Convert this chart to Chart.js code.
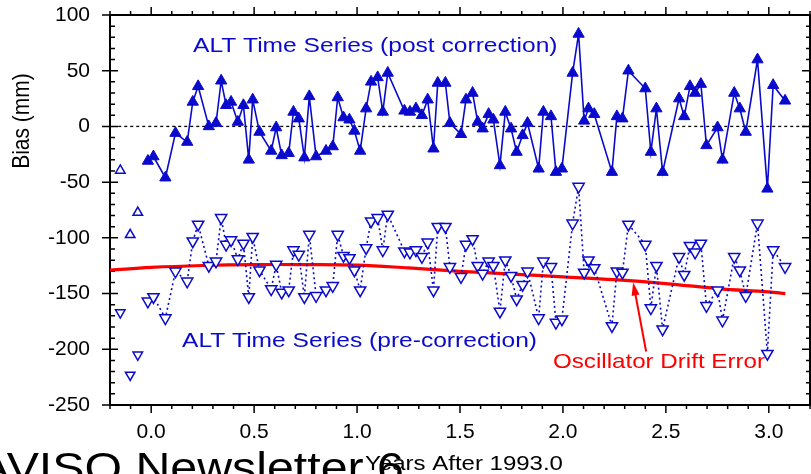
<!DOCTYPE html>
<html lang="en">
<head>
<meta charset="UTF-8">
<title>ALT Bias</title>
<script src="https://cdn.jsdelivr.net/npm/chart.js"></script>
<style>
  html, body { margin: 0; padding: 0; background: #fff; }
  .wrap { width: 811px; height: 474px; position: relative; }
</style>
</head>
<body>
<div class="wrap"><canvas id="biasChart"></canvas></div>
<script>
// years after 1993.0 for each cycle
const years = [
  -0.016, 0.011, 0.069, 0.118, 0.175, 0.202, 0.228, 0.280, 0.315, 0.340,
  0.364, 0.388, 0.421, 0.448, 0.474, 0.493, 0.526, 0.583, 0.607, 0.634,
  0.668, 0.691, 0.717, 0.744, 0.768, 0.801, 0.849, 0.882, 0.906, 0.934,
  0.963, 0.987, 1.015, 1.044, 1.068, 1.100, 1.125, 1.149, 1.230, 1.257,
  1.286, 1.315, 1.343, 1.371, 1.392, 1.429, 1.451, 1.505, 1.529, 1.561,
  1.586, 1.610, 1.639, 1.662, 1.694, 1.720, 1.748, 1.775, 1.804, 1.828,
  1.882, 1.905, 1.942, 1.966, 1.995, 2.047, 2.076, 2.103, 2.124, 2.152,
  2.238, 2.262, 2.289, 2.318, 2.400, 2.427, 2.454, 2.484, 2.564, 2.589,
  2.617, 2.642, 2.670, 2.697, 2.751, 2.775, 2.832, 2.859, 2.888, 2.945,
  2.993, 3.021, 3.079
];
const postBias = [
  -31, -27, -46, -6, -14, 22, 36, 0, 3, 41,
  19, 22, 4, 19, -30, 24, -5, -22, -1, -26,
  -24, 13, 7, -28, 27, -27, -22, -18, 26, 8,
  6, -4, -22, 16, 40, 44, 13, 48, 14, 13,
  16, 10, 24, -20, 39, 39, 3, -7, 24, 30,
  4, -2, 11, 6, -35, 13, -2, -23, -8, 3,
  -38, 13, 9, -41, -38, 48, 83, 5, 16, 11,
  -41, 9, 7, 50, 34, -23, 16, -41, 25, 9,
  36, 30, 38, -17, -1, -30, 30, 16, -5, 60,
  -56, 37, 23
];
const preBias = [
  -157, -153, -172, -130, -139, -103, -88, -125, -121, -82,
  -106, -102, -119, -105, -153, -99, -129, -146, -124, -149,
  -147, -111, -115, -153, -97, -152, -147, -143, -97, -116,
  -118, -129, -147, -109, -85, -82, -111, -79, -112, -113,
  -111, -117, -104, -147, -90, -90, -126, -135, -106, -101,
  -125, -132, -121, -125, -166, -120, -134, -155, -142, -130,
  -172, -121, -126, -176, -173, -87, -54, -131, -120, -127,
  -179, -130, -131, -88, -106, -163, -125, -182, -117, -133,
  -107, -113, -105, -161, -147, -174, -117, -129, -152, -87,
  -204, -111, -126
];

// early cycles, not connected
const earlyYears = [-0.150, -0.102, -0.065];
const earlyPost = [-39.5, -97.3, -77.3];
const earlyPre = [-167, -223, -205];

// oscillator drift curve
const driftYears = [-0.2, 0, 0.25, 0.5, 0.75, 1.0, 1.25, 1.5, 1.75, 2.0, 2.25, 2.5, 2.75, 3.0, 3.08];
const driftBias = [-129, -126.5, -124.8, -124, -124, -124.5, -127, -130, -132.5, -135, -137.5, -141, -145.5, -148.5, -150];

const xTicks = [0, 0.5, 1.0, 1.5, 2.0, 2.5, 3.0];
const yTicks = [100, 50, 0, -50, -100, -150, -200, -250];

const BLUE = '#0a0acc';
const FONT = '"Liberation Sans", Arial, Helvetica, sans-serif';

function pts(xs, ys) {
  return xs.map((x, i) => ({ x: x, y: ys[i] }));
}

// wider text, the original picture is stretched sideways
function wideText(ctx, text, x, y, size, color, sx, align) {
  ctx.save();
  ctx.font = size + 'px ' + FONT;
  ctx.fillStyle = color;
  ctx.textAlign = align || 'left';
  ctx.textBaseline = 'alphabetic';
  ctx.translate(x, y);
  ctx.scale(sx, 1);
  ctx.fillText(text, 0, 0);
  ctx.restore();
}

const framePlugin = {
  id: 'frame',
  beforeDatasetsDraw(chart) {
    const { ctx, chartArea: a, scales: { x, y } } = chart;
    ctx.save();
    ctx.strokeStyle = '#000';
    ctx.lineWidth = 2;
    ctx.strokeRect(a.left, a.top, a.right - a.left, a.bottom - a.top);
    ctx.lineWidth = 1.5;
    ctx.beginPath();
    for (let i = -2; i <= 32; i++) {
      const px = x.getPixelForValue(i / 10);
      const len = i % 5 === 0 ? 8 : 4;
      ctx.moveTo(px, a.bottom); ctx.lineTo(px, a.bottom + len);
      ctx.moveTo(px, a.top); ctx.lineTo(px, a.top - len);
    }
    for (let v = -250; v <= 100; v += 10) {
      const py = y.getPixelForValue(v);
      if (v % 50 === 0) {
        ctx.moveTo(a.left - 8, py); ctx.lineTo(a.left + 8, py);
        ctx.moveTo(a.right, py); ctx.lineTo(a.right - 8, py);
      } else {
        ctx.moveTo(a.left, py); ctx.lineTo(a.left + 5, py);
        ctx.moveTo(a.right, py); ctx.lineTo(a.right - 4, py);
      }
    }
    ctx.stroke();
    ctx.restore();
  },
  afterDraw(chart) {
    const { ctx, scales: { x, y } } = chart;

    wideText(ctx, 'ALT Time Series (post correction)', 193, 52, 21, BLUE, 1.17);
    wideText(ctx, 'ALT Time Series (pre-correction)', 182, 347, 21, BLUE, 1.17);
    wideText(ctx, 'Oscillator Drift Error', 553, 368, 21, '#ff0000', 1.15);

    // arrow from label to drift curve
    const x0 = x.getPixelForValue(2.404), y0 = y.getPixelForValue(-202);
    const x1 = x.getPixelForValue(2.341), y1 = y.getPixelForValue(-140);
    const ang = Math.atan2(y1 - y0, x1 - x0);
    ctx.save();
    ctx.strokeStyle = '#ff0000';
    ctx.fillStyle = '#ff0000';
    ctx.lineWidth = 2;
    ctx.beginPath();
    ctx.moveTo(x0, y0);
    ctx.lineTo(x1 - Math.cos(ang) * 8, y1 - Math.sin(ang) * 8);
    ctx.stroke();
    ctx.beginPath();
    ctx.moveTo(x1, y1);
    ctx.lineTo(x1 - Math.cos(ang) * 13 + Math.sin(ang) * 4, y1 - Math.sin(ang) * 13 - Math.cos(ang) * 4);
    ctx.lineTo(x1 - Math.cos(ang) * 13 - Math.sin(ang) * 4, y1 - Math.sin(ang) * 13 + Math.cos(ang) * 4);
    ctx.closePath();
    ctx.fill();
    ctx.restore();

    // axis titles
    ctx.save();
    ctx.font = '21px ' + FONT;
    ctx.fillStyle = '#000';
    ctx.textAlign = 'center';
    ctx.textBaseline = 'middle';
    ctx.translate(22, 121);
    ctx.rotate(-Math.PI / 2);
    ctx.scale(1, 1.15);
    ctx.fillText('Bias (mm)', 0, 0);
    ctx.restore();

    wideText(ctx, 'AVISO Newsletter 6', -22, 482, 42, '#000', 1.15);
    wideText(ctx, 'Years After 1993.0', 464, 470, 20, '#000', 1.2, 'center');
  }
};

new Chart(document.getElementById('biasChart').getContext('2d'), {
  type: 'scatter',
  data: {
    datasets: [
      {
        label: 'ALT Time Series (post correction)',
        data: pts(years, postBias),
        showLine: true,
        borderColor: BLUE,
        backgroundColor: BLUE,
        borderWidth: 1.6,
        pointStyle: 'triangle',
        pointRadius: 6.5,
        pointBorderWidth: 1,
        order: 1
      },
      {
        label: 'ALT Time Series (pre-correction)',
        data: pts(years, preBias),
        showLine: true,
        borderColor: BLUE,
        borderDash: [2, 3],
        backgroundColor: '#ffffff',
        borderWidth: 1.6,
        pointStyle: 'triangle',
        pointRotation: 180,
        pointRadius: 6.5,
        pointBorderWidth: 1.5,
        order: 2
      },
      {
        label: 'early post',
        data: pts(earlyYears, earlyPost),
        showLine: false,
        borderColor: BLUE,
        backgroundColor: '#ffffff',
        pointStyle: 'triangle',
        pointRadius: 5.5,
        pointBorderWidth: 1.5,
        order: 3
      },
      {
        label: 'early pre',
        data: pts(earlyYears, earlyPre),
        showLine: false,
        borderColor: BLUE,
        backgroundColor: '#ffffff',
        pointStyle: 'triangle',
        pointRotation: 180,
        pointRadius: 5.5,
        pointBorderWidth: 1.5,
        order: 3
      },
      {
        label: 'Oscillator Drift Error',
        data: pts(driftYears, driftBias),
        showLine: true,
        borderColor: '#ff0000',
        borderWidth: 3.2,
        pointRadius: 0,
        tension: 0.4,
        order: 4
      },
      {
        label: 'zero',
        data: pts([-0.16, 3.2], [0, 0]),
        showLine: true,
        borderColor: '#000',
        borderDash: [3, 3],
        borderWidth: 1.3,
        pointRadius: 0,
        order: 5
      }
    ]
  },
  options: {
    responsive: true,
    maintainAspectRatio: false,
    animation: false,
    layout: { autoPadding: false, padding: { left: 0, right: 1, top: 15, bottom: 0 } },
    plugins: { legend: { display: false }, tooltip: { enabled: false } },
    scales: {
      x: {
        type: 'linear',
        min: -0.2,
        max: 3.2,
        afterBuildTicks: s => { s.ticks = xTicks.map(v => ({ value: v })); },
        afterFit: s => {
          s.height = 69;
          s.paddingLeft = 0; s.paddingRight = 0;
        },
        grid: { display: false, drawTicks: false },
        border: { display: false },
        ticks: {
          padding: 15,
          color: '#000',
          font: { family: FONT, size: 21 },
          callback: v => v.toFixed(1)
        }
      },
      y: {
        min: -250,
        max: 100,
        afterBuildTicks: s => { s.ticks = yTicks.map(v => ({ value: v })); },
        afterFit: s => {
          s.width = 110;
          s.paddingTop = 0; s.paddingBottom = 0;
        },
        grid: { display: false, drawTicks: false },
        border: { display: false },
        ticks: {
          padding: 20,
          color: '#000',
          font: { family: FONT, size: 21 }
        }
      }
    }
  },
  plugins: [framePlugin]
});
</script>
</body>
</html>
